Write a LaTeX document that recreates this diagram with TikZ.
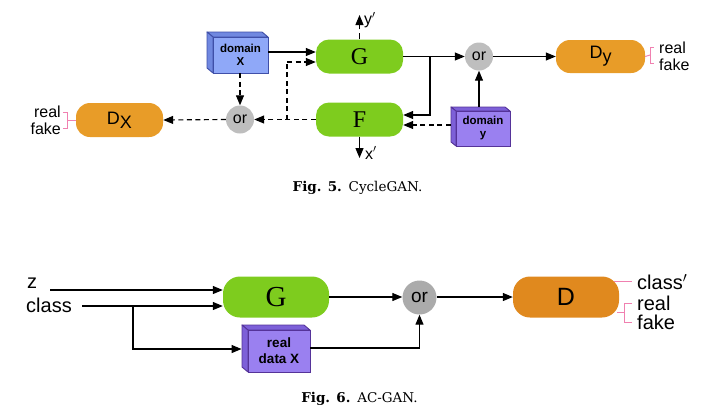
\documentclass[tikz,border=0pt]{standalone}
\usepackage{fontspec}
\setsansfont{Liberation Sans}
\newfontfamily\tserif{Liberation Serif}
\newfontfamily\capserif{DejaVu Serif}
\usetikzlibrary{arrows.meta,calc}
\definecolor{ggreen}{HTML}{7ECC1E}
\definecolor{dorange}{HTML}{E89C28}
\definecolor{dorangeb}{HTML}{E0891E}
\definecolor{orgray}{HTML}{BEBEBE}
\definecolor{orgrayb}{HTML}{ABABAB}
\definecolor{boxblue}{HTML}{8FA8F8}
\definecolor{boxblueside}{HTML}{7088E0}
\definecolor{boxblueline}{HTML}{3F4FA8}
\definecolor{boxpurple}{HTML}{9A80F0}
\definecolor{boxpurpleside}{HTML}{7D60D8}
\definecolor{boxpurpleline}{HTML}{553399}
\definecolor{pinkline}{HTML}{F080B0}
\tikzset{
  net/.style={fill=ggreen, rounded corners=13pt, inner sep=0pt, minimum width=87pt, minimum height=34pt, font=\tserif\fontsize{24}{24}\selectfont},
  disc/.style={fill=dorange, rounded corners=14pt, inner sep=0pt, minimum width=87pt, minimum height=34pt, font=\sffamily\fontsize{18}{18}\selectfont},
  ornode/.style={circle, fill=orgray, inner sep=0pt, minimum size=28pt, font=\sffamily\fontsize{16}{16}\selectfont},
  datab/.style={draw=boxblueline, fill=boxblue, line width=0.9pt, inner sep=0pt, align=center, font=\sffamily\bfseries\fontsize{11.5}{13}\selectfont},
  datap/.style={draw=boxpurpleline, fill=boxpurple, line width=0.9pt, inner sep=0pt, align=center, font=\sffamily\bfseries\fontsize{11.5}{13}\selectfont},
  arr/.style={line width=1.15pt, -{Triangle[length=10pt,width=8pt]}},
  darr/.style={arr, dash pattern=on 5pt off 3.5pt},
  lab/.style={inner sep=0pt, font=\sffamily\fontsize{16}{16}\selectfont},
  labb/.style={inner sep=0pt, font=\sffamily\fontsize{20}{20}\selectfont},
  pink/.style={draw=pinkline, line width=1pt},
  figcap/.style={inner sep=0pt, font=\capserif\fontsize{13.5}{15}\selectfont}
}
\begin{document}
\begin{tikzpicture}[x=1pt,y=-1pt]
\useasboundingbox (0,0) rectangle (711,416);
% ===== Fig 5 =====
\node[net] (G) at (359.5,56.5) {G};
\node[net] (F) at (359.5,119.5) {F};
\node[disc] (Dx) at (119.5,120) {D\raisebox{-4pt}{X}};
\node[disc, minimum width=89pt, minimum height=33pt] (Dy) at (600.5,56.5) {D\raisebox{-4pt}{y}};
\node[ornode] (or1) at (240,119.5) {or};
\node[ornode] (or2) at (479,56.5) {or};
% domain X box
\fill[boxblueside, draw=boxblueline, line width=0.9pt, line join=round] (213,37) -- (207,32) -- (262,32) -- (268,37) -- cycle;
\fill[boxblueside, draw=boxblueline, line width=0.9pt, line join=round] (213,37) -- (207,32) -- (207,68) -- (213,73) -- cycle;
\node[datab, minimum width=55pt, minimum height=36pt] (domX) at (240.5,55) {domain\\X};
% domain y box
\fill[boxpurpleside, draw=boxpurpleline, line width=0.9pt, line join=round] (456,111) -- (451,107) -- (505,107) -- (510,111) -- cycle;
\fill[boxpurpleside, draw=boxpurpleline, line width=0.9pt, line join=round] (456,111) -- (451,107) -- (451,142) -- (456,146) -- cycle;
\node[datap, minimum width=54pt, minimum height=35pt] (domY) at (483,128.5) {domain\\y};
% connectors fig 5
\draw[arr] ([yshift=3pt]domX.east) -- ([yshift=3pt]domX.east -| G.west);
\coordinate (j1) at (287,119.5);
\draw[darr] (F.west) -- (or1.east);
\draw[dash pattern=on 5pt off 3.5pt, line width=1.15pt] (j1) -- (287,62);
\draw[darr] (287,62) -- ([yshift=-5.5pt]G.west);
\draw[darr] (domX.south -| or1) -- (or1.north);
\draw[darr] (or1.west) -- (Dx.east);
\coordinate (yp) at (359.5,15);
\draw[darr, dash pattern=on 6pt off 4pt] (G.north) -- (yp);
\node[lab, anchor=west] (yplab) at (364,20) {y$'$};
\coordinate (xp) at (359.5,158);
\draw[arr] (F.south) -- (xp);
\node[lab, anchor=west] (xplab) at (365,153) {x$'$};
\draw[arr] (G.east) -- (or2.west);
\coordinate (j2) at (430,56.5);
\draw[arr] (j2) |- ([yshift=4.5pt]F.east);
\draw[darr] ([xshift=-5pt,yshift=3.5pt]domY.west) -- ([yshift=3.5pt]domY.west -| F.east);
\draw[arr] ([yshift=4pt]domY.north -| or2) -- (or2.south);
\draw[arr] (or2.east) -- (Dy.west);
% pink brackets fig 5
\draw[pink] (Dx.west) -- (67,120);
\draw[pink] (63,112) -- (67,112) -- (67,128) -- (63,128);
\node[lab, anchor=east] (r1) at (61,112) {real};
\node[lab, anchor=east] (f1) at (61,129) {fake};
\draw[pink] (Dy.east) -- (650,55);
\draw[pink] (654,47) -- (650,47) -- (650,63) -- (654,63);
\node[lab, anchor=west] (r2) at (659,47.5) {real};
\node[lab, anchor=west] (f2) at (659,64.5) {fake};
\node[figcap] (cap5) at (357.5,187.5) {\textbf{Fig. 5.}\hspace{0.5em}CycleGAN.};
% ===== Fig 6 =====
\node[net, minimum width=106pt, minimum height=41pt, rounded corners=17pt, font=\tserif\fontsize{29}{29}\selectfont] (G6) at (276,297) {G};
\node[disc, fill=dorangeb, minimum width=106pt, minimum height=41pt, rounded corners=17pt, font=\sffamily\fontsize{25}{25}\selectfont] (D6) at (566,297) {D};
\node[ornode, fill=orgrayb, minimum size=34pt, font=\sffamily\fontsize{19}{19}\selectfont] (or6) at (419.5,297.5) {or};
\fill[boxpurpleside, draw=boxpurpleline, line width=0.9pt, line join=round] (248,330) -- (242,325) -- (304,325) -- (310,330) -- cycle;
\fill[boxpurpleside, draw=boxpurpleline, line width=0.9pt, line join=round] (248,330) -- (242,325) -- (242,367) -- (248,372) -- cycle;
\node[datap, minimum width=62pt, minimum height=42pt, font=\sffamily\bfseries\fontsize{13.5}{16}\selectfont] (rdX) at (279,351) {real\\data X};
\node[labb, anchor=west] (zl) at (27,283) {z};
\node[labb, anchor=west] (cl) at (26,305) {class};
\coordinate (zs) at (50,290);
\coordinate (cs) at (82,306);
\draw[arr] (zs) -- (zs -| G6.west);
\draw[arr] (cs) -- (cs -| G6.west);
\coordinate (j3) at (133,306);
\draw[arr] (j3) |- ([xshift=-6pt,yshift=2pt]rdX.west);
\draw[arr] ([yshift=3pt]rdX.east) -| (or6.south);
\draw[arr] (G6.east) -- (G6.east -| or6.west);
\draw[arr] (or6.east |- D6.west) -- (D6.west);
\draw[pink] (614,281) -- (632,281);
\draw[pink] (617,312) -- (624,312);
\draw[pink] (632,303) -- (624,303) -- (624,322) -- (632,322);
\node[labb, anchor=west] (cl2) at (637,282) {class$'$};
\node[labb, anchor=west] (r3) at (637,303) {real};
\node[labb, anchor=west] (f3) at (637,322) {fake};
\node[figcap] (cap6) at (359.5,399) {\textbf{Fig. 6.}\hspace{0.5em}AC-GAN.};
\end{tikzpicture}
\end{document}
